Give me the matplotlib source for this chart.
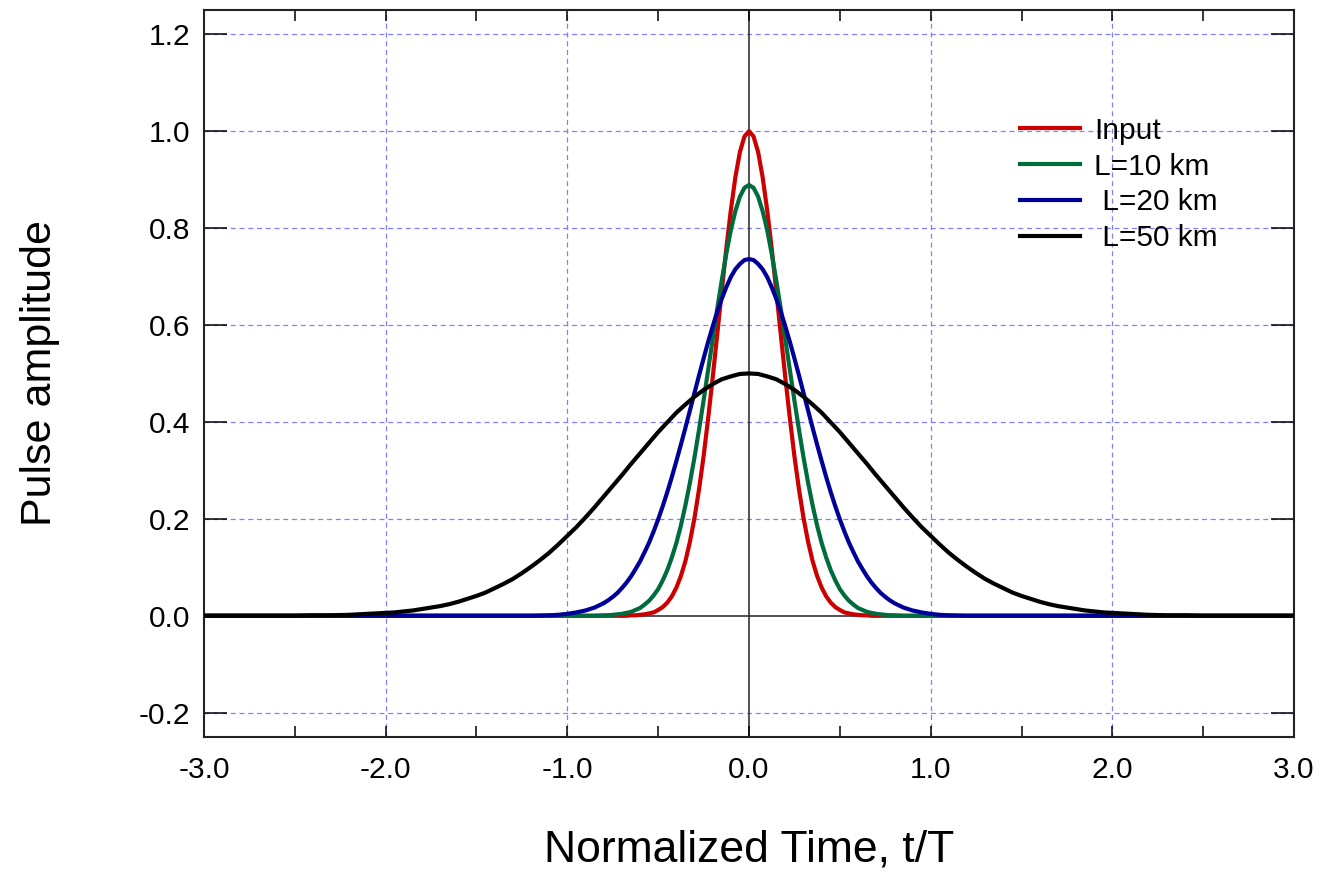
import matplotlib
matplotlib.use('Agg')
import matplotlib.pyplot as plt
from matplotlib.ticker import MultipleLocator

plt.rcParams['font.family'] = ['Liberation Sans', 'DejaVu Sans']

# normalized time grids
t_narrow = [-3.0, -1.4, -1.2, -1.1, -1.05, -1.0, -0.95, -0.9, -0.85,
            -0.8, -0.775, -0.75, -0.725, -0.7, -0.675, -0.65, -0.625,
            -0.6, -0.575, -0.55, -0.525, -0.5, -0.475, -0.45, -0.425,
            -0.4, -0.375, -0.35, -0.325, -0.3, -0.275, -0.25, -0.225,
            -0.2, -0.175, -0.15, -0.125, -0.1, -0.075, -0.05, -0.025,
            0.0,
            0.025, 0.05, 0.075, 0.1, 0.125, 0.15, 0.175, 0.2,
            0.225, 0.25, 0.275, 0.3, 0.325, 0.35, 0.375, 0.4,
            0.425, 0.45, 0.475, 0.5, 0.525, 0.55, 0.575, 0.6,
            0.625, 0.65, 0.675, 0.7, 0.725, 0.75, 0.775, 0.8,
            0.85, 0.9, 0.95, 1.0, 1.05, 1.1, 1.2, 1.4, 3.0]

amp_input = [0, 0, 0, 0, 0, 0, 0, 0, 0,
             0.000, 0.000, 0.000, 0.000, 0.000, 0.000, 0.001, 0.001,
             0.002, 0.003, 0.005, 0.007, 0.012, 0.018, 0.027, 0.040,
             0.058, 0.082, 0.113, 0.153, 0.202, 0.261, 0.329, 0.407,
             0.491, 0.580, 0.670, 0.758, 0.837, 0.905, 0.957, 0.989,
             1.000,
             0.989, 0.957, 0.905, 0.837, 0.758, 0.670, 0.580, 0.491,
             0.407, 0.329, 0.261, 0.202, 0.153, 0.113, 0.082, 0.058,
             0.040, 0.027, 0.018, 0.012, 0.007, 0.005, 0.003, 0.002,
             0.001, 0.001, 0.000, 0.000, 0.000, 0.000, 0.000, 0.000,
             0, 0, 0, 0, 0, 0, 0, 0, 0]

amp_10km = [0, 0, 0, 0, 0, 0, 0, 0, 0,
            0.001, 0.001, 0.002, 0.003, 0.004, 0.006, 0.008, 0.012,
            0.016, 0.023, 0.031, 0.042, 0.055, 0.073, 0.094, 0.120,
            0.150, 0.186, 0.228, 0.275, 0.327, 0.384, 0.444, 0.507,
            0.570, 0.633, 0.692, 0.747, 0.796, 0.835, 0.865, 0.883,
            0.889,
            0.883, 0.865, 0.835, 0.796, 0.747, 0.692, 0.633, 0.570,
            0.507, 0.444, 0.384, 0.327, 0.275, 0.228, 0.186, 0.150,
            0.120, 0.094, 0.073, 0.055, 0.042, 0.031, 0.023, 0.016,
            0.012, 0.008, 0.006, 0.004, 0.003, 0.002, 0.001, 0.001,
            0, 0, 0, 0, 0, 0, 0, 0, 0]

amp_20km = [0.000, 0.000, 0.000, 0.001, 0.002, 0.004, 0.007, 0.011, 0.017,
            0.026, 0.032, 0.039, 0.047, 0.057, 0.068, 0.081, 0.096,
            0.112, 0.131, 0.151, 0.174, 0.199, 0.226, 0.255, 0.286,
            0.319, 0.353, 0.388, 0.424, 0.460, 0.496, 0.531, 0.565,
            0.597, 0.627, 0.654, 0.678, 0.699, 0.715, 0.726, 0.734,
            0.736,
            0.734, 0.726, 0.715, 0.699, 0.678, 0.654, 0.627, 0.597,
            0.565, 0.531, 0.496, 0.460, 0.424, 0.388, 0.353, 0.319,
            0.286, 0.255, 0.226, 0.199, 0.174, 0.151, 0.131, 0.112,
            0.096, 0.081, 0.068, 0.057, 0.047, 0.039, 0.032, 0.026,
            0.017, 0.011, 0.007, 0.004, 0.002, 0.001, 0.000, 0.000, 0.000]

t_wide = [-3.0, -2.9, -2.8, -2.7, -2.6, -2.5, -2.4, -2.3, -2.2, -2.1,
          -2.0, -1.95, -1.9, -1.85, -1.8, -1.75, -1.7, -1.65, -1.6, -1.55,
          -1.5, -1.45, -1.4, -1.35, -1.3, -1.25, -1.2, -1.15, -1.1, -1.05,
          -1.0, -0.95, -0.9, -0.85, -0.8, -0.75, -0.7, -0.65, -0.6, -0.55,
          -0.5, -0.45, -0.4, -0.35, -0.3, -0.25, -0.2, -0.15, -0.1, -0.05,
          0.0,
          0.05, 0.1, 0.15, 0.2, 0.25, 0.3, 0.35, 0.4, 0.45, 0.5,
          0.55, 0.6, 0.65, 0.7, 0.75, 0.8, 0.85, 0.9, 0.95, 1.0,
          1.05, 1.1, 1.15, 1.2, 1.25, 1.3, 1.35, 1.4, 1.45, 1.5,
          1.55, 1.6, 1.65, 1.7, 1.75, 1.8, 1.85, 1.9, 1.95, 2.0,
          2.1, 2.2, 2.3, 2.4, 2.5, 2.6, 2.7, 2.8, 2.9, 3.0]

amp_50km = [0.000, 0.000, 0.000, 0.000, 0.000, 0.000, 0.001, 0.001, 0.002, 0.004,
            0.006, 0.007, 0.009, 0.011, 0.014, 0.017, 0.020, 0.024, 0.029, 0.035,
            0.041, 0.048, 0.057, 0.066, 0.076, 0.088, 0.101, 0.115, 0.130, 0.147,
            0.165, 0.183, 0.203, 0.224, 0.246, 0.268, 0.290, 0.313, 0.335, 0.357,
            0.379, 0.399, 0.419, 0.436, 0.452, 0.466, 0.478, 0.488, 0.494, 0.499,
            0.500,
            0.499, 0.494, 0.488, 0.478, 0.466, 0.452, 0.436, 0.419, 0.399, 0.379,
            0.357, 0.335, 0.313, 0.290, 0.268, 0.246, 0.224, 0.203, 0.183, 0.165,
            0.147, 0.130, 0.115, 0.101, 0.088, 0.076, 0.066, 0.057, 0.048, 0.041,
            0.035, 0.029, 0.024, 0.020, 0.017, 0.014, 0.011, 0.009, 0.007, 0.006,
            0.004, 0.002, 0.001, 0.001, 0.000, 0.000, 0.000, 0.000, 0.000, 0.000]

labels = ['Input', 'L=10 km', ' L=20 km', ' L=50 km']
colors = ['#cc0000', '#006b3c', '#000099', '#000000']

fig = plt.figure(figsize=(13.21, 8.74), dpi=100)
ax = fig.add_axes([0.1544, 0.1568, 0.8252, 0.8318])

ax.axhline(0, color='#333333', lw=1.2, zorder=1)
ax.axvline(0, color='#333333', lw=1.2, zorder=1)

series = [(t_narrow, amp_input), (t_narrow, amp_10km),
          (t_narrow, amp_20km), (t_wide, amp_50km)]
for (t, a), lab, c in zip(series, labels, colors):
    ax.plot(t, a, color=c, lw=3.0, label=lab, zorder=3)

ax.set_xlim(-3, 3)
ax.set_ylim(-0.25, 1.25)
ax.xaxis.set_minor_locator(MultipleLocator(0.5))
ax.set_xticks([-3, -2, -1, 0, 1, 2, 3])
ax.set_xticklabels(['-3.0', '-2.0', '-1.0', '0.0', '1.0', '2.0', '3.0'])
ax.set_yticks([-0.2, 0.0, 0.2, 0.4, 0.6, 0.8, 1.0, 1.2])
ax.set_yticklabels(['-0.2', '0.0', '0.2', '0.4', '0.6', '0.8', '1.0', '1.2'])

ax.tick_params(axis='x', which='both', direction='in', top=True, bottom=True,
               length=8, width=1.1, pad=14, labelsize=21.5)
ax.tick_params(axis='y', which='major', direction='in', left=True, right=True,
               length=16.5, width=1.1, pad=10, labelsize=21.5)

grid_kw = dict(color='#8080ff', lw=0.9, dashes=(4, 3), zorder=0)
for xv in [-2, -1, 1, 2]:
    ax.axvline(xv, **grid_kw)
for yv in [-0.2, 0.2, 0.4, 0.6, 0.8, 1.0, 1.2]:
    ax.axhline(yv, **grid_kw)

for s in ax.spines.values():
    s.set_linewidth(1.5)
    s.set_color('#222222')

ax.set_xlabel('Normalized Time, t/T', fontsize=32)
ax.xaxis.set_label_coords(0.5, -0.155)
ax.xaxis.label.set_va('center')
ax.set_ylabel('Pulse amplitude', fontsize=31)
ax.yaxis.set_label_coords(-0.1505, 0.5)
ax.yaxis.label.set_va('center')

ax.legend(loc='upper left', bbox_to_anchor=(0.7486, 0.853), frameon=False,
          fontsize=21.5, handlelength=2.0, handletextpad=0.47,
          labelspacing=0.26, borderpad=0, borderaxespad=0)

plt.savefig('out.png', dpi=100)
